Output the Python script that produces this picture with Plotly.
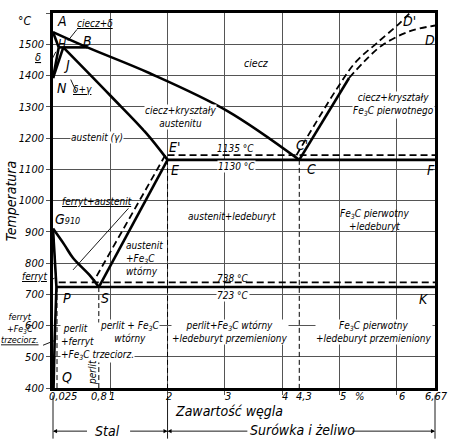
import plotly.graph_objects as go

FONT = "DejaVu Sans Condensed, DejaVu Sans"

# axes
X_MAX = 6.67
T_MIN, T_MAX = 400, 1600
y_ticks = [400, 500, 600, 700, 800, 900, 1000, 1100, 1200, 1300, 1400, 1500, 1600]
y_ticktext = ["400", "500", "600", "700", "800", "900", "1000", "1100", "1200", "1300", "1400", "1500", ""]
x_grid = [1, 2, 3, 4, 5, 6]
x_tick_pos = [0.17, 0.8, 1.03, 2.03, 3.06, 4.05, 4.38, 5.06, 5.36, 6.09, 6.7]
x_tick_text = ["0,025", "0,8", "1", "2", "3", "4", "4,3", "5", "%", "6", "6,67"]

# solid phase lines (C %, T °C)
ABC_x = [0, 0.6, 1.68, 3.04, 4.3]
ABC_y = [1539, 1490, 1408, 1287, 1130]
AH_x = [0, 0.1]
AH_y = [1539, 1490]
HB_x = [0.1, 0.6]
HB_y = [1490, 1490]
HN_x = [0.1, 0]
HN_y = [1490, 1392]
JN_x = [0.18, 0]
JN_y = [1490, 1392]
JE_x = [0.18, 1.0, 1.62, 2.0]
JE_y = [1490, 1336, 1217, 1130]
ECF_x = [2.0, 6.67]
ECF_y = [1130, 1130]
ES_x = [2.0, 0.8]
ES_y = [1130, 723]
GS_x = [0, 0.2, 0.35, 0.65, 0.8]
GS_y = [910, 858, 816, 759, 723]
GP_x = [0, 0.06]
GP_y = [910, 723]
PSK_x = [0.06, 6.67]
PSK_y = [723, 723]
PQ_x = [0.06, 0.03, 0.01]
PQ_y = [723, 560, 400]
CD_x = [4.3, 5.17]
CD_y = [1130, 1392]

# dashed lines (stable system)
CD2_x = [5.17, 5.44, 5.75, 6.22, 6.67]
CD2_y = [1392, 1446, 1497, 1541, 1560]
CpDp_x = [4.25, 5.0, 5.3, 5.65, 6.05, 6.22]
CpDp_y = [1145, 1370, 1446, 1503, 1567, 1598]
EpCpFp_x = [2.0, 6.67]
EpCpFp_y = [1145, 1145]
EpSp_x = [1.96, 0.7]
EpSp_y = [1145, 738]
PpSpKp_x = [0.1, 6.67]
PpSpKp_y = [738, 738]

# thin dashed verticals
vert_x = [0.07, 0.8, 2.0, 4.3]
vert_top = [723, 723, 1130, 1130]

PX_PER_X = 382 / X_MAX
PX_PER_T = 378 / (T_MAX - T_MIN)


def px(x):
    return x / X_MAX


def py(t):
    return (t - T_MIN) / (T_MAX - T_MIN)


fig = go.Figure()

solid = [(ABC_x, ABC_y, "spline"), (AH_x, AH_y, "linear"), (HB_x, HB_y, "linear"),
         (HN_x, HN_y, "linear"), (JN_x, JN_y, "linear"), (JE_x, JE_y, "spline"),
         (ECF_x, ECF_y, "linear"), (ES_x, ES_y, "linear"), (GS_x, GS_y, "spline"),
         (GP_x, GP_y, "linear"), (PSK_x, PSK_y, "linear"), (PQ_x, PQ_y, "spline"),
         (CD_x, CD_y, "linear")]
for xs, ys, shp in solid:
    fig.add_trace(go.Scatter(x=xs, y=ys, mode="lines", line=dict(color="black", width=2.6, shape=shp),
                             hoverinfo="skip"))

dashed = [(CD2_x, CD2_y, "spline"), (CpDp_x, CpDp_y, "spline"), (EpCpFp_x, EpCpFp_y, "linear"),
          (EpSp_x, EpSp_y, "linear"), (PpSpKp_x, PpSpKp_y, "linear")]
for xs, ys, shp in dashed:
    fig.add_trace(go.Scatter(x=xs, y=ys, mode="lines",
                             line=dict(color="black", width=1.8, dash="7px,4px", shape=shp),
                             hoverinfo="skip"))

for vx, vt in zip(vert_x, vert_top):
    fig.add_trace(go.Scatter(x=[vx, vx], y=[vt, 400], mode="lines",
                             line=dict(color="black", width=1, dash="5px,3px"), hoverinfo="skip"))


def label(x, y, text, size=10, **kw):
    kw.setdefault("xanchor", "center")
    kw.setdefault("yanchor", "middle")
    fig.add_annotation(x=px(x), y=py(y), xref="paper", yref="paper", text=text, showarrow=False,
                       font=dict(family=FONT, size=size, color="black", style="italic"), **kw)


def pointer(x0, y0, x1, y1, head=0):
    fig.add_annotation(x=px(x1), y=py(y1), xref="paper", yref="paper",
                       ax=(x0 - x1) * PX_PER_X, ay=-(y0 - y1) * PX_PER_T, axref="pixel", ayref="pixel",
                       text="", showarrow=True, arrowhead=head, arrowsize=0.9, arrowwidth=0.9,
                       arrowcolor="black", standoff=0)


FE3C = "Fe<sub>3</sub>C"
WB = dict(bgcolor="white", borderpad=0)

# point letters
label(0.16, 1575, "A", 14)
label(0.16, 1502, "H", 12)
label(0.61, 1511, "B", 14)
label(0.24, 1435, "J", 14)
label(0.16, 1359, "N", 14)
label(2.13, 1171, "E'", 14)
label(2.13, 1098, "E", 14)
label(4.35, 1178, "C'", 14)
label(4.52, 1102, "C", 14)
label(6.6, 1098, "F", 14)
label(6.23, 1575, "D'", 14)
label(6.58, 1514, "D", 14)
label(0.26, 940, "G<span style='font-size:9px'>910</span>", 14)
label(0.24, 689, "P", 14)
label(0.91, 689, "S", 14)
label(6.48, 686, "K", 14)
label(0.24, 435, "Q", 14)

# region names
label(0.73, 1565, "<u>ciecz+δ</u>", 10)
pointer(0.44, 1552, 0.26, 1511)
label(-0.26, 1457, "<u>δ</u>", 11)
pointer(-0.05, 1441, 0.05, 1476)
label(0.52, 1356, "<u>δ+γ</u>", 10)
pointer(0.42, 1343, 0.31, 1387)
label(3.56, 1441, "ciecz", 10.5)
label(2.22, 1267, "ciecz+kryształy<br>austenitu", 10, **WB)
label(5.94, 1305, "ciecz+kryształy<br>" + FE3C + " pierwotnego", 10, **WB)
label(0.77, 1203, "austenit (γ)", 10, **WB)
label(3.18, 1165, "1135 °C", 10)
label(3.21, 1108, "1130 °C", 10, **WB)
label(0.77, 997, "<u>ferryt+austenit</u>", 10)
pointer(1.34, 978, 0.35, 778)
label(1.24, 813, "austenit<br>+" + FE3C + "<br>wtórny", 10, xanchor="left", align="left")
label(3.13, 949, "austenit+ledeburyt", 10)
label(5.62, 937, FE3C + " pierwotny<br>+ledeburyt", 10)
label(-0.33, 757, "<u>ferryt</u>", 10)
pointer(-0.05, 744, 0.03, 752)
label(3.14, 752, "738 °C", 10)
label(3.14, 695, "723 °C", 10, **WB)
label(-0.57, 590, "ferryt<br>+" + FE3C + "<br><u>trzeciorz.</u>", 9)
pointer(-0.2, 535, 0.03, 552)
label(0.12, 546, " perlit<br>+ferryt<br>+" + FE3C + " trzeciorz.", 10, xanchor="left", align="left", **WB)
label(0.68, 451, "perlit", 10, textangle=-90)
label(1.34, 578, "perlit + " + FE3C + "<br>wtórny", 10, **WB)
label(3.09, 578, "perlit+" + FE3C + " wtórny<br>+ledeburyt przemieniony", 10, **WB)
label(5.6, 578, FE3C + " pierwotny<br>+ledeburyt przemieniony", 10, **WB)

# axis texts
label(-0.49, 1575, "°C", 12)
for xp, xt in zip(x_tick_pos, x_tick_text):
    label(xp, 372, xt, 11)
label(3.07, 327, "Zawartość węgla", 14)
label(-0.72, 997, "Temperatura", 14, textangle=-90)
label(0.96, 262, "Stal", 14)
label(4.35, 267, "Surówka i żeliwo", 14)

# dimension lines
for ex in [0, 2.0, 6.67]:
    pointer(ex, 380, ex, 238)
for tip, tail in [(0, 0.62), (2.0, 1.32), (2.0, 3.42), (6.67, 5.2)]:
    pointer(tail, 262, tip, 262, head=2)

fig.update_layout(
    width=453, height=445,
    margin=dict(l=53, r=18, t=10, b=57),
    plot_bgcolor="white", paper_bgcolor="white",
    showlegend=False,
    xaxis=dict(range=[0, X_MAX], tickvals=x_grid, showticklabels=False, showgrid=True,
               gridcolor="#555", gridwidth=0.8, ticks="outside", ticklen=4, tickcolor="#555",
               showline=True, linecolor="black", linewidth=2.6, mirror=True, zeroline=False),
    yaxis=dict(range=[T_MIN, T_MAX], tickvals=y_ticks, ticktext=y_ticktext, showgrid=True,
               gridcolor="#555", gridwidth=0.8, ticks="outside", ticklen=4, tickcolor="#555",
               tickfont=dict(family=FONT, size=11, color="black", style="italic"),
               showline=True, linecolor="black", linewidth=2.6, mirror=True, zeroline=False),
)

fig.write_html("out.html", config={"displayModeBar": False},
               post_script="document.body.style.margin = '0';")
